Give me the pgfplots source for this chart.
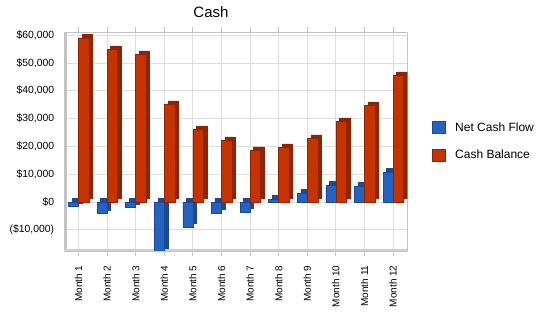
\documentclass[border=0pt]{standalone}
\usepackage{pgfplots}
\pgfplotsset{compat=1.18}
\usepackage{fontspec}
\setmainfont{Liberation Sans}
\definecolor{cfblue}{RGB}{38,99,193}
\definecolor{cfbluedark}{RGB}{28,72,150}
\definecolor{cbred}{RGB}{196,51,0}
\definecolor{cbreddark}{RGB}{142,36,0}
\definecolor{gridgray}{RGB}{222,222,222}
\definecolor{wallgray}{RGB}{195,195,195}
\pgfplotstableread{
x net bal
1 -1560 59000
2 -4070 54850
3 -1920 53050
4 -17950 35100
5 -9000 26100
6 -3950 22150
7 -3590 18560
8 1080 19640
9 3230 22870
10 6110 28980
11 5750 34730
12 10780 45510
}\cashdata
\begin{document}
\begin{tikzpicture}
\path[use as bounding box] (-64.2pt,-67pt) rectangle (485.8pt,251pt);
\begin{axis}[
  at={(0pt,0pt)}, anchor=south west,
  scale only axis, width=343.2pt, height=218.7pt,
  xmin=0.5, xmax=12.5, ymin=-17600, ymax=61000,
  clip=true, scaled ticks=false,
  xtick={1,...,12},
  xticklabels={Month 1,Month 2,Month 3,Month 4,Month 5,Month 6,Month 7,Month 8,Month 9,Month 10,Month 11,Month 12},
  x tick label style={rotate=90, anchor=east, font=\fontsize{10}{12}\selectfont, xshift=-6pt},
  ytick={-10000,0,10000,20000,30000,40000,50000,60000},
  yticklabels={{(\$10,000)},{\$0},{\$10,000},{\$20,000},{\$30,000},{\$40,000},{\$50,000},{\$60,000}},
  y tick label style={font=\fontsize{10.4}{12}\selectfont, xshift=-1.5pt},
  ymajorgrids, xmajorgrids,
  grid style={gridgray, line width=0.8pt},
  axis line style={wallgray, line width=0.8pt},
  xtick style={wallgray, line width=0.8pt},
  ytick style={draw=none},
  tick align=outside, major tick length=5pt,
  legend image code/.code={\draw[#1, line width=0.6pt] (0pt,-6pt) rectangle (13pt,6pt); \path[draw=none, fill=none] (0pt,-1pt) rectangle (22pt,1pt);},
  legend style={at={(rel axis cs:1.0708,0.594)}, anchor=north west, draw=none, fill=none,
    font=\fontsize{12}{14}\selectfont, row sep=15pt, inner sep=0pt,
    nodes={inner sep=1pt}},
  legend cell align=left,
]
\draw[wallgray, line width=3pt] ([xshift=1.5pt]rel axis cs:0,0) -- ([xshift=1.5pt]rel axis cs:0,1);
\draw[wallgray!80, line width=2pt] ([yshift=1pt]rel axis cs:0,0) -- ([yshift=1pt]rel axis cs:1,0);
% depth faces
\addplot[ybar, bar width=10pt, bar shift=-1.5pt, fill=cfbluedark, draw=cfbluedark, yshift=3.5pt, forget plot] table[x=x,y=net] {\cashdata};
\addplot[ybar, bar width=10pt, bar shift=-5pt, fill=cfblue, draw=cfbluedark, line width=0.5pt] table[x=x,y=net] {\cashdata};
\addlegendentry{Net Cash Flow}
\addplot[ybar, bar width=10.5pt, bar shift=8.75pt, fill=cbreddark, draw=cbreddark, yshift=3.5pt, forget plot] table[x=x,y=bal] {\cashdata};
\addplot[ybar, bar width=10.5pt, bar shift=5.25pt, fill=cbred, draw=cbreddark, line width=0.5pt] table[x=x,y=bal] {\cashdata};
\addlegendentry{Cash Balance}
\end{axis}
\node[font=\fontsize{15}{18}\selectfont] at (146.8pt,238.5pt) {Cash};
\end{tikzpicture}
\end{document}
